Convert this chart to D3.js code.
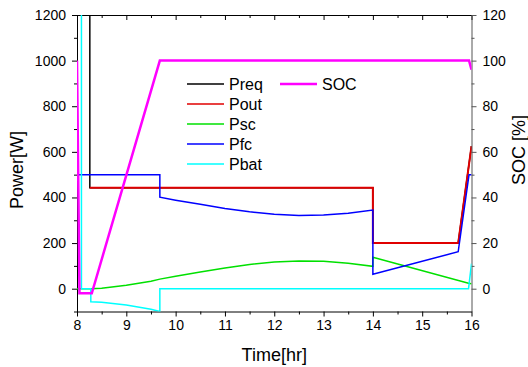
<!DOCTYPE html>
<html>
<head>
<meta charset="utf-8">
<script src="https://cdn.jsdelivr.net/npm/d3@7"></script>
<style>
  body { margin: 0; background: #fff; }
  svg { display: block; font-family: "Liberation Sans", Arial, sans-serif; }
</style>
</head>
<body>
<svg id="chart" width="528" height="367"></svg>
<script>
// series data, [time (hr), value]
const preq = [[8, 1500], [8.26, 1500], [8.26, 443], [14, 443], [14, 200], [15.73, 200], [16, 625]];
const pout = [[8.26, 443], [14, 443], [14, 200], [15.73, 200], [16, 625]];
const psc = [[8, 0], [8.28, 0], [8.5, 2], [9, 15], [9.5, 33], [9.68, 42], [10, 55], [10.5, 73],
  [11, 91], [11.5, 106], [12, 117], [12.5, 121], [13, 120], [13.5, 112], [14, 98],
  [14, 138], [15.94, 24], [16, 22]];
const pfc = [[8, 500], [9.68, 500], [9.68, 401], [10, 388], [10.5, 370], [11, 352], [11.5, 337],
  [12, 326], [12.5, 321], [13, 323], [13.5, 331], [14, 345], [14, 63], [15.73, 162],
  [15.95, 500], [16, 500]];
const pbat = [[8, 1500], [8.09, 1500], [8.09, 0], [8.28, 0], [8.28, -57], [8.5, -59], [9, -72],
  [9.5, -90], [9.68, -100], [9.68, 0], [15.94, 0], [16, 110]];
const soc = [[8, 100], [8.05, -2], [8.3, -2], [9.68, 100], [15.95, 100], [16, 96]];

const xTicks = [8, 9, 10, 11, 12, 13, 14, 15, 16];
const powerTicks = [0, 200, 400, 600, 800, 1000, 1200];
const socTicks = [0, 20, 40, 60, 80, 100, 120];

const pLeft = 77, pRight = 471.5, pTop = 15, pBottom = 311.5;

const svg = d3.select('#chart');
const x = d3.scaleLinear().domain([8, 16]).range([pLeft, pRight]);
const yP = d3.scaleLinear().domain([-100, 1200]).range([pBottom, pTop]);
const yS = d3.scaleLinear().domain([-10, 120]).range([pBottom, pTop]);

svg.append('defs').append('clipPath').attr('id', 'plot')
  .append('rect').attr('x', pLeft).attr('y', pTop)
  .attr('width', pRight - pLeft).attr('height', pBottom - pTop);

// axes
function styleAxis(g, color) {
  g.selectAll('path,line').attr('stroke', color).attr('stroke-width', 1);
  g.selectAll('text').attr('font-size', 14).attr('fill', '#000')
    .attr('font-family', '"Liberation Sans", Arial, sans-serif');
}

const minorX = d3.range(8.5, 16, 1);
const minorP = d3.range(-100, 1200, 200);
const minorS = d3.range(10, 120, 20);
const fmt = d3.format('d');

svg.append('g').attr('transform', `translate(0,${pBottom})`)
  .call(d3.axisBottom(x).tickValues(xTicks).tickFormat(fmt).tickSize(5).tickSizeOuter(0).tickPadding(4))
  .call(g => styleAxis(g, '#000'));
svg.append('g').attr('transform', `translate(0,${pBottom})`)
  .call(d3.axisBottom(x).tickValues(minorX).tickSize(3).tickFormat(''))
  .call(g => { g.select('.domain').remove(); styleAxis(g, '#000'); });

svg.append('g').attr('transform', `translate(0,${pTop})`)
  .call(d3.axisBottom(x).tickValues(xTicks).tickSize(5).tickFormat('').tickSizeOuter(0))
  .call(g => styleAxis(g, '#000'));
svg.append('g').attr('transform', `translate(0,${pTop})`)
  .call(d3.axisBottom(x).tickValues(minorX).tickSize(3).tickFormat(''))
  .call(g => { g.select('.domain').remove(); styleAxis(g, '#000'); });

svg.append('g').attr('transform', `translate(${pLeft},0)`)
  .call(d3.axisLeft(yP).tickValues(powerTicks).tickFormat(fmt).tickSize(5).tickSizeOuter(0).tickPadding(6))
  .call(g => styleAxis(g, '#000'));
svg.append('g').attr('transform', `translate(${pLeft},0)`)
  .call(d3.axisLeft(yP).tickValues(minorP).tickSize(3).tickFormat(''))
  .call(g => { g.select('.domain').remove(); styleAxis(g, '#000'); });

svg.append('g').attr('transform', `translate(${pRight},0)`)
  .call(d3.axisRight(yS).tickValues(socTicks).tickFormat(fmt).tickSize(5).tickSizeOuter(0).tickPadding(6))
  .call(g => styleAxis(g, '#555'));
svg.append('g').attr('transform', `translate(${pRight},0)`)
  .call(d3.axisRight(yS).tickValues(minorS).tickSize(3).tickFormat(''))
  .call(g => { g.select('.domain').remove(); styleAxis(g, '#555'); });

// lines
const lineP = d3.line().x(d => x(d[0])).y(d => yP(d[1]));
const lineS = d3.line().x(d => x(d[0])).y(d => yS(d[1]));

const series = [
  { name: 'Preq', data: preq, color: '#000000', w: 1.5 },
  { name: 'Pout', data: pout, color: '#e00000', w: 2 },
  { name: 'Psc', data: psc, color: '#00e000', w: 1.5 },
  { name: 'Pfc', data: pfc, color: '#0000ff', w: 1.5 },
  { name: 'Pbat', data: pbat, color: '#00ffff', w: 1.5 },
];

const plot = svg.append('g').attr('clip-path', 'url(#plot)');
series.forEach(s => {
  plot.append('path').attr('d', lineP(s.data)).attr('fill', 'none')
    .attr('stroke', s.color).attr('stroke-width', s.w);
});
plot.append('path').attr('d', lineS(soc)).attr('fill', 'none')
  .attr('stroke', '#ff00ff').attr('stroke-width', 2.5);

// legend
const leg = svg.append('g');
series.forEach((s, i) => {
  const yy = 84 + i * 20;
  leg.append('line').attr('x1', 187).attr('x2', 224).attr('y1', yy).attr('y2', yy)
    .attr('stroke', s.color).attr('stroke-width', 1.5);
  leg.append('text').attr('x', 229).attr('y', yy).attr('dy', '0.35em')
    .attr('font-size', 16).text(s.name);
});
leg.append('line').attr('x1', 280).attr('x2', 317).attr('y1', 84).attr('y2', 84)
  .attr('stroke', '#ff00ff').attr('stroke-width', 2.5);
leg.append('text').attr('x', 322).attr('y', 84).attr('dy', '0.35em')
  .attr('font-size', 16).text('SOC');

// axis titles
svg.append('text').attr('x', (pLeft + pRight) / 2).attr('y', 361)
  .attr('text-anchor', 'middle').attr('font-size', 18).text('Time[hr]');
svg.append('text').attr('transform', 'translate(23,170) rotate(-90)')
  .attr('text-anchor', 'middle').attr('font-size', 18).text('Power[W]');
svg.append('text').attr('transform', 'translate(525,150) rotate(-90)')
  .attr('text-anchor', 'middle').attr('font-size', 18).text('SOC [%]');
</script>
</body>
</html>
